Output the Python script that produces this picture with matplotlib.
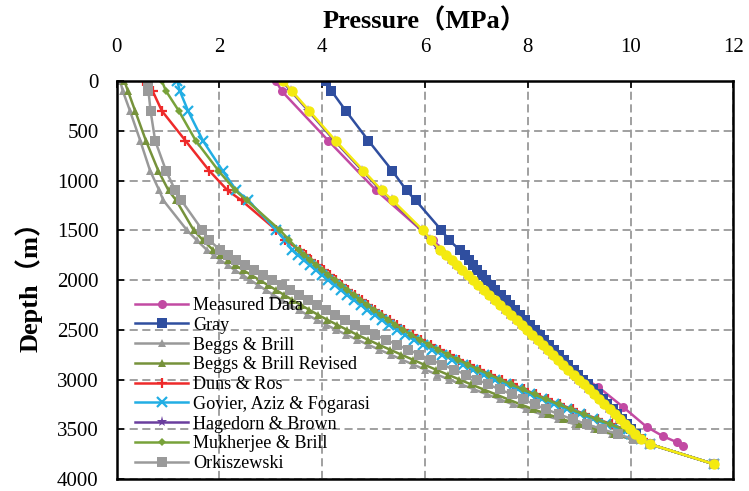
import matplotlib

matplotlib.use("Agg")
import matplotlib.pyplot as plt

plt.rcParams["font.family"] = ["Liberation Serif", "Noto Sans CJK SC", "DejaVu Sans"]

# depth points (m): sparse upper part, dense part from 1700 m, last point at 3850 m
depth_m = [0, 100, 300, 600, 900, 1100, 1200, 1500, 1600,
           1700, 1750, 1800, 1850, 1900, 1950, 2000, 2050, 2100, 2150,
           2200, 2250, 2300, 2350, 2400, 2450, 2500, 2550, 2600, 2650,
           2700, 2750, 2800, 2850, 2900, 2950, 3000, 3050, 3100, 3150,
           3200, 3250, 3300, 3350, 3400, 3450, 3500, 3550, 3600, 3650,
           3850]

measured_depth = [0, 100, 600, 1100, 1600, 2100, 2600, 2900, 3075, 3275, 3475, 3570, 3630, 3665]
measured_p = [3.10, 3.21, 4.12, 5.05, 6.15, 7.20, 8.22, 8.82, 9.37, 9.85, 10.31, 10.63, 10.90, 11.02]

gray_p = [4.07, 4.18, 4.46, 4.90, 5.36, 5.64, 5.82, 6.32, 6.47,
          6.68, 6.77, 6.86, 6.94, 7.02, 7.11, 7.19, 7.28, 7.37, 7.47,
          7.57, 7.66, 7.76, 7.85, 7.95, 8.04, 8.14, 8.23, 8.32, 8.42,
          8.51, 8.60, 8.70, 8.79, 8.89, 8.98, 9.08, 9.17, 9.27, 9.36,
          9.46, 9.55, 9.65, 9.74, 9.83, 9.92, 10.01, 10.10, 10.20, 10.38,
          11.62]

beggs_p = [0.07, 0.12, 0.26, 0.46, 0.65, 0.83, 0.91, 1.37, 1.56,
           1.76, 1.89, 2.02, 2.16, 2.30, 2.45, 2.60, 2.75, 2.90, 3.05,
           3.21, 3.37, 3.54, 3.71, 3.89, 4.08, 4.27, 4.47, 4.68, 4.89,
           5.11, 5.33, 5.55, 5.77, 6.00, 6.23, 6.47, 6.71, 6.96, 7.21,
           7.46, 7.71, 7.97, 8.27, 8.58, 8.92, 9.28, 9.64, 10.02, 10.38,
           11.62]

beggs_rev_p = [0.15, 0.22, 0.36, 0.57, 0.81, 1.01, 1.16, 1.50, 1.68,
               1.88, 2.02, 2.16, 2.31, 2.46, 2.62, 2.78, 2.94, 3.10, 3.26,
               3.42, 3.58, 3.75, 3.92, 4.10, 4.29, 4.48, 4.68, 4.89, 5.10,
               5.32, 5.54, 5.76, 5.98, 6.21, 6.44, 6.67, 6.90, 7.14, 7.38,
               7.62, 7.86, 8.11, 8.39, 8.68, 9.00, 9.34, 9.68, 10.04, 10.38,
               11.62]

duns_p = [0.52, 0.70, 0.88, 1.34, 1.80, 2.16, 2.43, 3.11, 3.28,
          3.57, 3.68, 3.79, 3.91, 4.03, 4.15, 4.27, 4.39, 4.51, 4.64,
          4.77, 4.90, 5.03, 5.17, 5.31, 5.45, 5.60, 5.76, 5.93, 6.11,
          6.29, 6.48, 6.67, 6.87, 7.07, 7.28, 7.49, 7.71, 7.93, 8.16,
          8.39, 8.63, 8.87, 9.12, 9.37, 9.63, 9.88, 10.08, 10.25, 10.38,
          11.62]

govier_p = [1.18, 1.23, 1.39, 1.68, 2.06, 2.33, 2.56, 3.11, 3.28,
            3.42, 3.53, 3.64, 3.76, 3.88, 4.00, 4.12, 4.24, 4.36, 4.49,
            4.62, 4.75, 4.88, 5.02, 5.16, 5.30, 5.45, 5.61, 5.78, 5.96,
            6.14, 6.33, 6.53, 6.73, 6.93, 7.14, 7.36, 7.58, 7.80, 8.04,
            8.27, 8.51, 8.76, 9.01, 9.27, 9.53, 9.80, 10.01, 10.21, 10.38,
            11.62]

hagedorn_p = [3.22, 3.39, 3.73, 4.24, 4.78, 5.14, 5.35, 5.94, 6.10,
              6.27, 6.38, 6.49, 6.59, 6.69, 6.80, 6.90, 7.01, 7.11, 7.22,
              7.33, 7.43, 7.54, 7.64, 7.75, 7.85, 7.96, 8.06, 8.16, 8.26,
              8.36, 8.46, 8.56, 8.66, 8.76, 8.86, 8.96, 9.06, 9.16, 9.26,
              9.36, 9.46, 9.56, 9.66, 9.76, 9.86, 9.96, 10.07, 10.18, 10.38,
              11.62]

mukherjee_p = [0.88, 0.96, 1.21, 1.54, 1.98, 2.31, 2.53, 3.18, 3.36,
               3.54, 3.65, 3.76, 3.88, 4.00, 4.12, 4.24, 4.36, 4.48, 4.61,
               4.74, 4.87, 5.00, 5.14, 5.28, 5.42, 5.57, 5.73, 5.90, 6.08,
               6.26, 6.45, 6.64, 6.84, 7.04, 7.25, 7.46, 7.68, 7.90, 8.13,
               8.36, 8.60, 8.84, 9.09, 9.34, 9.60, 9.86, 10.06, 10.24, 10.38,
               11.62]

orkiszewski_p = [0.62, 0.62, 0.66, 0.75, 0.96, 1.14, 1.26, 1.67, 1.80,
                 2.02, 2.17, 2.33, 2.50, 2.67, 2.85, 3.03, 3.21, 3.38, 3.55,
                 3.72, 3.89, 4.07, 4.25, 4.44, 4.64, 4.83, 5.03, 5.24, 5.45,
                 5.67, 5.89, 6.11, 6.33, 6.56, 6.79, 7.01, 7.23, 7.46, 7.69,
                 7.91, 8.13, 8.36, 8.61, 8.87, 9.15, 9.45, 9.75, 10.07, 10.38,
                 11.62]

# extra yellow series drawn on top, not listed in the legend
yellow_p = [3.24, 3.41, 3.75, 4.26, 4.80, 5.16, 5.37, 5.96, 6.12,
            6.30, 6.41, 6.52, 6.62, 6.72, 6.83, 6.93, 7.04, 7.14, 7.25,
            7.36, 7.46, 7.57, 7.67, 7.78, 7.88, 7.99, 8.09, 8.19, 8.29,
            8.39, 8.49, 8.59, 8.69, 8.79, 8.89, 8.99, 9.09, 9.19, 9.29,
            9.39, 9.49, 9.59, 9.69, 9.79, 9.89, 9.99, 10.09, 10.20, 10.38,
            11.62]

fig = plt.figure(figsize=(7.49, 4.91), dpi=100)
ax = fig.add_axes([0.1557, 0.0244, 0.8235, 0.8106])

lw = 1.8
ax.plot(measured_p, measured_depth, color="#C24AA3", lw=lw, marker="o", ms=6.5, mew=0,
        label="Measured Data")
ax.plot(gray_p, depth_m, color="#2F4E9F", lw=lw, marker="s", ms=6.5, mew=0, label="Gray")
ax.plot(beggs_p, depth_m, color="#999999", lw=lw, marker="^", ms=6, mew=0, label="Beggs & Brill")
ax.plot(beggs_rev_p, depth_m, color="#76923B", lw=lw, marker="^", ms=6, mew=0,
        label="Beggs & Brill Revised")
ax.plot(duns_p, depth_m, color="#EE2A2A", lw=lw, marker="+", ms=7.5, mew=1.6, label="Duns & Ros")
ax.plot(govier_p, depth_m, color="#22AEE4", lw=lw, marker="x", ms=6.5, mew=1.6,
        label="Govier, Aziz & Fogarasi")
ax.plot(hagedorn_p, depth_m, color="#6A3E9E", lw=lw, marker="*", ms=8, mew=0,
        label="Hagedorn & Brown")
ax.plot(mukherjee_p, depth_m, color="#78A23A", lw=lw, marker="D", ms=4.5, mew=0,
        label="Mukherjee & Brill")
ax.plot(orkiszewski_p, depth_m, color="#9A9A9A", lw=lw, marker="s", ms=6.5, mew=0,
        label="Orkiszewski")
ax.plot(yellow_p, depth_m, color="#F4EA10", lw=lw, marker="o", ms=7.5, mew=0, label="_nolegend_")

ax.set_xlim(0, 12)
ax.set_ylim(4000, 0)
ax.set_xticks(range(0, 13, 2))
ax.set_yticks(range(0, 4001, 500))
ax.xaxis.tick_top()
ax.xaxis.set_label_position("top")
ax.tick_params(direction="in", length=5, width=1.2, labelsize=15, colors="black")
ax.tick_params(axis="x", pad=17)
ax.tick_params(axis="y", pad=13)
for s in ax.spines.values():
    s.set_linewidth(1.8)
    s.set_color("black")

ax.grid(True, color="#999999", linestyle=(0, (4.5, 2.5)), linewidth=1.3)
ax.set_axisbelow(True)

ax.set_xlabel("Pressure（MPa）", fontsize=19, fontweight="bold", labelpad=7)
ax.set_ylabel("Depth（m）", fontsize=19, fontweight="bold", labelpad=10)

ax.legend(loc="upper left", bbox_to_anchor=(0.03, 0.457), frameon=False, fontsize=13.1,
          handlelength=2.9, handletextpad=0.3, labelspacing=0.15, borderpad=0,
          borderaxespad=0)

fig.savefig("out.png", dpi=100)
